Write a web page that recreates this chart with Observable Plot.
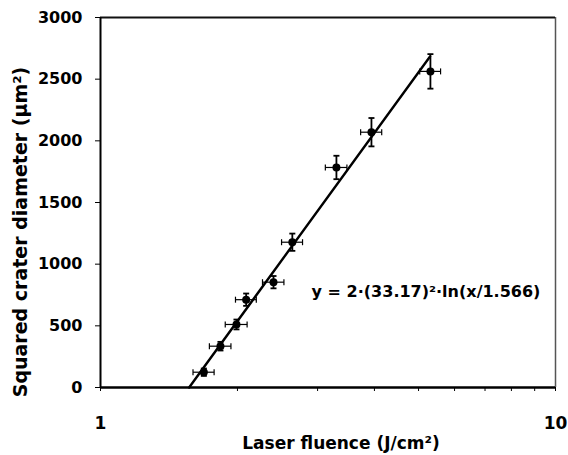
<!DOCTYPE html>
<html>
<head>
<meta charset="utf-8">
<script src="https://cdn.jsdelivr.net/npm/d3@7"></script>
<script src="https://cdn.jsdelivr.net/npm/@observablehq/plot@0.6"></script>
<style>
  html, body { margin: 0; padding: 0; background: #fff; }
  #chart { width: 568px; height: 455px; }
  svg { font-family: "DejaVu Sans", sans-serif; }
</style>
</head>
<body>
<div id="chart"></div>
<script>
// Data
const fluence = [1.687, 1.835, 1.99, 2.09, 2.40, 2.64, 3.30, 3.94, 5.31];   // J/cm²
const diam2   = [124, 335, 511, 712, 854, 1178, 1784, 2070, 2563];        // µm²
const xErr    = [0.09, 0.10, 0.11, 0.11, 0.13, 0.14, 0.18, 0.21, 0.28];
const yErr    = [30, 35, 40, 50, 50, 70, 95, 115, 140];

// Fit line y = 2·(33.17)²·ln(x/1.566): straight on a log-x axis, endpoints
const fitX = [1.566, 5.30];
const fitY = [0, 2684];

const yTicks = [0, 500, 1000, 1500, 2000, 2500, 3000];
const xTicks = [1, 2, 3, 4, 5, 6, 7, 8, 9, 10];
const xTickLabels = {1: "1", 10: "10"};

const equation = "y = 2·(33.17)²·ln(x/1.566)";
const xLabel = "Laser fluence (J/cm²)";
const yLabel = "Squared crater diameter (μm²)";

const points = fluence.map((x, i) => ({
  x, y: diam2[i],
  xlo: x - xErr[i], xhi: x + xErr[i],
  ylo: diam2[i] - yErr[i], yhi: diam2[i] + yErr[i]
}));
const fit = fitX.map((x, i) => ({x, y: fitY[i]}));

const vCap = {draw(ctx, size) { const r = Math.sqrt(size / Math.PI); ctx.moveTo(0, -r); ctx.lineTo(0, r); }};
const hCap = {draw(ctx, size) { const r = Math.sqrt(size / Math.PI); ctx.moveTo(-r, 0); ctx.lineTo(r, 0); }};

const font = {fontFamily: "DejaVu Sans", fontWeight: "bold"};

const chart = Plot.plot({
  width: 568,
  height: 455,
  marginLeft: 100,
  marginRight: 13,
  marginTop: 17,
  marginBottom: 68,
  style: {fontFamily: "DejaVu Sans", color: "#000", background: "#fff"},
  x: {type: "log", domain: [1, 10]},
  y: {domain: [0, 3000]},
  marks: [
    Plot.ruleX([10], {stroke: "#555", strokeWidth: 1.5}),
    Plot.ruleY([3000], {stroke: "#111", strokeWidth: 2}),
    Plot.ruleY([0], {stroke: "#000", strokeWidth: 2.5}),
    Plot.ruleX([1], {stroke: "#000", strokeWidth: 2}),
    Plot.axisY({ticks: yTicks, tickSize: 5, tickPadding: 13, tickFormat: d => String(d),
      fontSize: 16, ...font, label: null, strokeWidth: 1}),
    Plot.axisX({ticks: xTicks, tickSize: 4, tickPadding: 25, tickFormat: d => xTickLabels[d] ?? "",
      fontSize: 17, ...font, label: null, strokeWidth: 1}),
    Plot.line(fit, {x: "x", y: "y", stroke: "#000", strokeWidth: 2.4}),
    Plot.link(points, {x1: "xlo", x2: "xhi", y1: "y", y2: "y", stroke: "#000", strokeWidth: 1.2}),
    Plot.link(points, {x1: "x", x2: "x", y1: "ylo", y2: "yhi", stroke: "#000", strokeWidth: 1.8}),
    Plot.dot(points, {x: "xlo", y: "y", symbol: vCap, r: 3, stroke: "#000", strokeWidth: 1.2}),
    Plot.dot(points, {x: "xhi", y: "y", symbol: vCap, r: 3, stroke: "#000", strokeWidth: 1.2}),
    Plot.dot(points, {x: "x", y: "ylo", symbol: hCap, r: 3, stroke: "#000", strokeWidth: 1.8}),
    Plot.dot(points, {x: "x", y: "yhi", symbol: hCap, r: 3, stroke: "#000", strokeWidth: 1.8}),
    Plot.dot(points, {x: "x", y: "y", r: 4, fill: "#000", stroke: "none"})
  ]
});

const svg = d3.select(chart);
svg.append("text")
  .attr("x", 426).attr("y", 297)
  .attr("text-anchor", "middle")
  .attr("font-family", "DejaVu Sans").attr("font-weight", "bold").attr("font-size", 16)
  .attr("fill", "#000")
  .text(equation);
svg.append("text")
  .attr("x", 341).attr("y", 449)
  .attr("text-anchor", "middle")
  .attr("font-family", "DejaVu Sans").attr("font-weight", "bold").attr("font-size", 17)
  .attr("fill", "#000")
  .text(xLabel);
svg.append("text")
  .attr("transform", "translate(27,232) rotate(-90)")
  .attr("text-anchor", "middle")
  .attr("font-family", "DejaVu Sans").attr("font-weight", "bold").attr("font-size", 19)
  .attr("fill", "#000")
  .text(yLabel);

document.getElementById("chart").appendChild(chart);
</script>
</body>
</html>
